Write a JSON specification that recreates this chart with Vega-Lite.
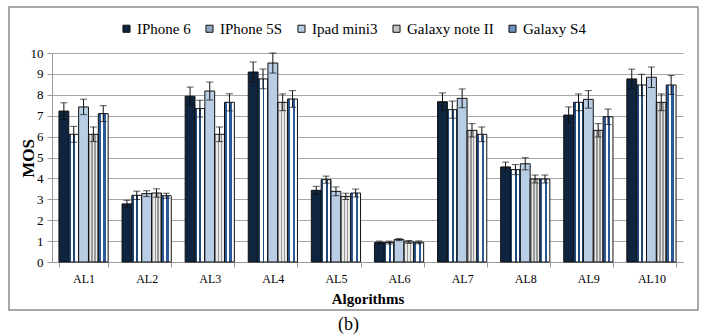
{
  "$schema": "https://vega.github.io/schema/vega-lite/v6.json",
  "width": 689,
  "height": 303,
  "autosize": {"type": "none"},
  "padding": {"left": 9, "top": 7, "right": 9, "bottom": 26},
  "background": "white",
  "config": {
    "view": {"stroke": "#8c8c8c", "strokeWidth": 1.5},
    "font": "Liberation Serif, Times New Roman, serif",
    "axis": {"labelFont": "Liberation Serif, Times New Roman, serif", "titleFont": "Liberation Serif, Times New Roman, serif", "labelColor": "#000", "titleColor": "#000"},
    "legend": {"labelFont": "Liberation Serif, Times New Roman, serif"},
    "title": {"font": "Liberation Serif, Times New Roman, serif"}
  },
  "data": {
    "values": [
      {"alg": "AL1", "device": "IPhone 6", "mos": 7.22, "lo": 6.82, "hi": 7.62},
      {"alg": "AL1", "device": "IPhone 5S", "mos": 6.11, "lo": 5.73, "hi": 6.49},
      {"alg": "AL1", "device": "Ipad mini3", "mos": 7.42, "lo": 7.05, "hi": 7.79},
      {"alg": "AL1", "device": "Galaxy note II", "mos": 6.11, "lo": 5.76, "hi": 6.46},
      {"alg": "AL1", "device": "Galaxy S4", "mos": 7.10, "lo": 6.72, "hi": 7.48},
      {"alg": "AL2", "device": "IPhone 6", "mos": 2.78, "lo": 2.61, "hi": 2.95},
      {"alg": "AL2", "device": "IPhone 5S", "mos": 3.19, "lo": 2.99, "hi": 3.39},
      {"alg": "AL2", "device": "Ipad mini3", "mos": 3.27, "lo": 3.13, "hi": 3.41},
      {"alg": "AL2", "device": "Galaxy note II", "mos": 3.30, "lo": 3.10, "hi": 3.50},
      {"alg": "AL2", "device": "Galaxy S4", "mos": 3.17, "lo": 3.05, "hi": 3.29},
      {"alg": "AL3", "device": "IPhone 6", "mos": 7.93, "lo": 7.49, "hi": 8.37},
      {"alg": "AL3", "device": "IPhone 5S", "mos": 7.34, "lo": 6.94, "hi": 7.74},
      {"alg": "AL3", "device": "Ipad mini3", "mos": 8.18, "lo": 7.75, "hi": 8.61},
      {"alg": "AL3", "device": "Galaxy note II", "mos": 6.11, "lo": 5.76, "hi": 6.46},
      {"alg": "AL3", "device": "Galaxy S4", "mos": 7.64, "lo": 7.23, "hi": 8.05},
      {"alg": "AL4", "device": "IPhone 6", "mos": 9.09, "lo": 8.61, "hi": 9.57},
      {"alg": "AL4", "device": "IPhone 5S", "mos": 8.76, "lo": 8.29, "hi": 9.23},
      {"alg": "AL4", "device": "Ipad mini3", "mos": 9.52, "lo": 9.04, "hi": 10.0},
      {"alg": "AL4", "device": "Galaxy note II", "mos": 7.64, "lo": 7.24, "hi": 8.04},
      {"alg": "AL4", "device": "Galaxy S4", "mos": 7.80, "lo": 7.40, "hi": 8.20},
      {"alg": "AL5", "device": "IPhone 6", "mos": 3.43, "lo": 3.24, "hi": 3.62},
      {"alg": "AL5", "device": "IPhone 5S", "mos": 3.94, "lo": 3.77, "hi": 4.11},
      {"alg": "AL5", "device": "Ipad mini3", "mos": 3.38, "lo": 3.17, "hi": 3.59},
      {"alg": "AL5", "device": "Galaxy note II", "mos": 3.14, "lo": 2.99, "hi": 3.29},
      {"alg": "AL5", "device": "Galaxy S4", "mos": 3.30, "lo": 3.11, "hi": 3.49},
      {"alg": "AL6", "device": "IPhone 6", "mos": 0.93, "lo": 0.86, "hi": 1.00},
      {"alg": "AL6", "device": "IPhone 5S", "mos": 0.93, "lo": 0.86, "hi": 1.00},
      {"alg": "AL6", "device": "Ipad mini3", "mos": 1.07, "lo": 1.02, "hi": 1.12},
      {"alg": "AL6", "device": "Galaxy note II", "mos": 0.96, "lo": 0.89, "hi": 1.03},
      {"alg": "AL6", "device": "Galaxy S4", "mos": 0.94, "lo": 0.87, "hi": 1.01},
      {"alg": "AL7", "device": "IPhone 6", "mos": 7.67, "lo": 7.25, "hi": 8.09},
      {"alg": "AL7", "device": "IPhone 5S", "mos": 7.29, "lo": 6.88, "hi": 7.70},
      {"alg": "AL7", "device": "Ipad mini3", "mos": 7.83, "lo": 7.38, "hi": 8.28},
      {"alg": "AL7", "device": "Galaxy note II", "mos": 6.30, "lo": 5.98, "hi": 6.62},
      {"alg": "AL7", "device": "Galaxy S4", "mos": 6.11, "lo": 5.76, "hi": 6.46},
      {"alg": "AL8", "device": "IPhone 6", "mos": 4.55, "lo": 4.32, "hi": 4.78},
      {"alg": "AL8", "device": "IPhone 5S", "mos": 4.42, "lo": 4.18, "hi": 4.66},
      {"alg": "AL8", "device": "Ipad mini3", "mos": 4.70, "lo": 4.41, "hi": 4.99},
      {"alg": "AL8", "device": "Galaxy note II", "mos": 3.97, "lo": 3.78, "hi": 4.16},
      {"alg": "AL8", "device": "Galaxy S4", "mos": 3.97, "lo": 3.78, "hi": 4.16},
      {"alg": "AL9", "device": "IPhone 6", "mos": 7.03, "lo": 6.64, "hi": 7.42},
      {"alg": "AL9", "device": "IPhone 5S", "mos": 7.64, "lo": 7.24, "hi": 8.04},
      {"alg": "AL9", "device": "Ipad mini3", "mos": 7.78, "lo": 7.36, "hi": 8.20},
      {"alg": "AL9", "device": "Galaxy note II", "mos": 6.30, "lo": 5.98, "hi": 6.62},
      {"alg": "AL9", "device": "Galaxy S4", "mos": 6.95, "lo": 6.58, "hi": 7.32},
      {"alg": "AL10", "device": "IPhone 6", "mos": 8.76, "lo": 8.29, "hi": 9.23},
      {"alg": "AL10", "device": "IPhone 5S", "mos": 8.47, "lo": 7.96, "hi": 8.98},
      {"alg": "AL10", "device": "Ipad mini3", "mos": 8.84, "lo": 8.35, "hi": 9.33},
      {"alg": "AL10", "device": "Galaxy note II", "mos": 7.64, "lo": 7.24, "hi": 8.04},
      {"alg": "AL10", "device": "Galaxy S4", "mos": 8.47, "lo": 8.02, "hi": 8.92}
    ]
  },
  "encoding": {
    "x": {
      "field": "alg", "type": "nominal", "sort": null,
      "scale": {"range": [43, 674], "paddingInner": 0.22, "paddingOuter": 0.11},
      "axis": {
        "offset": -48,
        "title": "Algorithms", "titleFontSize": 15, "titleFontWeight": "bold",
        "titleY": 36, "titleBaseline": "middle",
        "labelAngle": 0, "labelFontSize": 12, "labelPadding": 6,
        "tickBand": "extent", "tickSize": 5, "tickColor": "#999", "domainColor": "#999"
      }
    },
    "xOffset": {
      "field": "device", "type": "nominal",
      "scale": {"domain": ["IPhone 6", "IPhone 5S", "Ipad mini3", "Galaxy note II", "Galaxy S4"]}
    },
    "y": {
      "field": "mos", "type": "quantitative",
      "scale": {"domain": [0, 10], "nice": false, "range": [255, 46]},
      "axis": {
        "offset": -43,
        "title": "MOS", "titleFontSize": 17, "titleFontWeight": "bold",
        "titleX": -24, "titleY": 151, "titleAngle": -90, "titleBaseline": "middle", "titleAlign": "center",
        "values": [0,1,2,3,4,5,6,7,8,9,10], "labelFontSize": 13, "labelPadding": 4,
        "tickSize": 5, "tickColor": "#999", "domainColor": "#999",
        "grid": true, "gridColor": "#a6a6a6", "gridWidth": 1
      }
    }
  },
  "layer": [
    {
      "transform": [{"filter": "datum.device === 'IPhone 6'"}],
      "mark": {"type": "bar", "stroke": "#111", "strokeWidth": 1, "fill": "#0f243e"}
    },
    {
      "transform": [{"filter": "datum.device === 'IPhone 5S'"}],
      "mark": {"type": "bar", "stroke": "#111", "strokeWidth": 1,
        "fill": {"gradient": "linear", "x1": 0, "y1": 0, "x2": 1, "y2": 0, "stops": [
          {"offset": 0, "color": "#1f497d"}, {"offset": 0.2, "color": "#1f497d"},
          {"offset": 0.2, "color": "#ffffff"}, {"offset": 0.45, "color": "#ffffff"},
          {"offset": 0.45, "color": "#1f497d"}, {"offset": 0.65, "color": "#1f497d"},
          {"offset": 0.65, "color": "#ffffff"}, {"offset": 0.9, "color": "#ffffff"},
          {"offset": 0.9, "color": "#1f497d"}, {"offset": 1, "color": "#1f497d"}
        ]}}
    },
    {
      "transform": [{"filter": "datum.device === 'Ipad mini3'"}],
      "mark": {"type": "bar", "stroke": "#111", "strokeWidth": 1, "fill": "#b9cde5"}
    },
    {
      "transform": [{"filter": "datum.device === 'Galaxy note II'"}],
      "mark": {"type": "bar", "stroke": "#111", "strokeWidth": 1,
        "fill": {"gradient": "linear", "x1": 0, "y1": 0, "x2": 1, "y2": 0, "stops": [
          {"offset": 0, "color": "#9a9a9a"}, {"offset": 0.15, "color": "#9a9a9a"},
          {"offset": 0.15, "color": "#e8e8e8"}, {"offset": 0.3, "color": "#e8e8e8"},
          {"offset": 0.3, "color": "#9a9a9a"}, {"offset": 0.45, "color": "#9a9a9a"},
          {"offset": 0.45, "color": "#e8e8e8"}, {"offset": 0.6, "color": "#e8e8e8"},
          {"offset": 0.6, "color": "#9a9a9a"}, {"offset": 0.75, "color": "#9a9a9a"},
          {"offset": 0.75, "color": "#e8e8e8"}, {"offset": 0.9, "color": "#e8e8e8"},
          {"offset": 0.9, "color": "#9a9a9a"}, {"offset": 1, "color": "#9a9a9a"}
        ]}}
    },
    {
      "transform": [{"filter": "datum.device === 'Galaxy S4'"}],
      "mark": {"type": "bar", "stroke": "#111", "strokeWidth": 1,
        "fill": {"gradient": "linear", "x1": 0, "y1": 0, "x2": 1, "y2": 0, "stops": [
          {"offset": 0, "color": "#2c5a96"}, {"offset": 0.25, "color": "#2c5a96"},
          {"offset": 0.25, "color": "#ffffff"}, {"offset": 0.5, "color": "#ffffff"},
          {"offset": 0.5, "color": "#2c5a96"}, {"offset": 0.75, "color": "#2c5a96"},
          {"offset": 0.75, "color": "#ffffff"}, {"offset": 1, "color": "#ffffff"}
        ]}}
    },
    {
      "mark": {"type": "point", "shape": "square", "filled": true, "size": 0, "opacity": 0},
      "encoding": {
        "fill": {
          "field": "device", "type": "nominal",
          "scale": {
            "domain": ["IPhone 6", "IPhone 5S", "Ipad mini3", "Galaxy note II", "Galaxy S4"],
            "range": ["#0f243e", "#8ea4c2", "#b9cde5", "#c4c4c4", "#6f8fbc"]
          },
          "legend": {
            "title": null, "orient": "none", "direction": "horizontal",
            "legendX": 110, "legendY": 14,
            "symbolType": "square", "symbolSize": 50, "symbolOpacity": 1,
            "symbolStrokeColor": "#111", "symbolStrokeWidth": 1,
            "labelFontSize": 15, "labelColor": "#000", "labelOffset": 3, "columnPadding": 11
          }
        }
      }
    },
    {
      "mark": {"type": "rule", "color": "#111", "strokeWidth": 1},
      "encoding": {
        "y": {"field": "lo", "type": "quantitative"},
        "y2": {"field": "hi"}
      }
    },
    {
      "mark": {"type": "tick", "color": "#111", "size": 7, "thickness": 1},
      "encoding": {"y": {"field": "hi", "type": "quantitative"}}
    },
    {
      "mark": {"type": "tick", "color": "#111", "size": 7, "thickness": 1},
      "encoding": {"y": {"field": "lo", "type": "quantitative"}}
    }
  ],
  "title": {"text": "(b)", "orient": "bottom", "frame": "group", "fontSize": 18, "fontWeight": "normal", "offset": 6, "anchor": "middle", "dx": -5}
}
